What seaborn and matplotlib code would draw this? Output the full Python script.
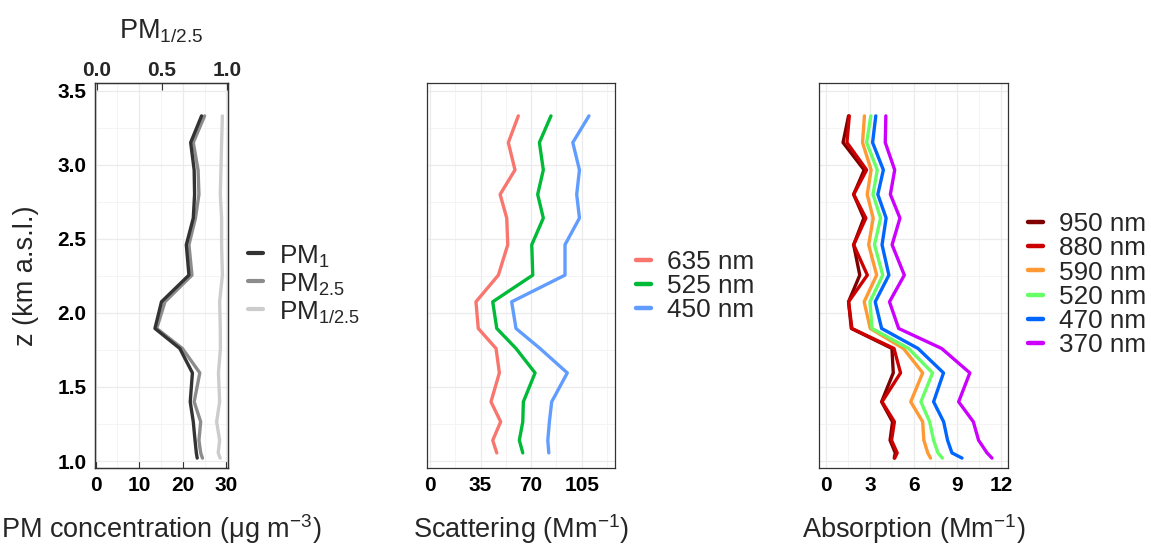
import numpy as np
import pandas as pd
import matplotlib
matplotlib.use("Agg")
import matplotlib.pyplot as plt
import seaborn as sns
from matplotlib.lines import Line2D

# ---------------- data ----------------
z_km = [3.33, 3.15, 2.965, 2.80, 2.64, 2.46, 2.255, 2.075, 1.895, 1.76,
        1.595, 1.40, 1.265, 1.14, 1.055, 1.02]

pm1 = [24.3, 21.8, 22.6, 22.7, 22.4, 20.8, 21.4, 15.1, 13.6, 19.3,
       22.2, 21.7, 22.4, 22.8, 23.1, 23.3]
pm25 = [25.0, 22.4, 23.5, 23.7, 22.9, 21.4, 22.1, 15.9, 14.0, 19.9,
        23.9, 22.6, 24.1, 23.7, 24.1, 24.5]
pm_ratio = [0.962, 0.956, 0.951, 0.946, 0.956, 0.956, 0.962, 0.941, 0.946, 0.947,
            0.932, 0.941, 0.918, 0.941, 0.930, 0.945]

z_sca = z_km[:15]
sca_635 = [61.1, 54.2, 58.8, 48.5, 53.1, 53.8, 47.3, 31.8, 33.4, 45.7,
           48.0, 42.2, 48.9, 43.4, 46.2]
sca_525 = [83.7, 75.7, 78.4, 74.5, 78.4, 70.4, 71.1, 43.4, 46.2, 59.5,
           72.7, 64.6, 64.2, 61.8, 64.2]
sca_450 = [110.0, 98.8, 103.4, 101.5, 103.4, 93.4, 93.4, 56.5, 59.5, 76.1,
           95.0, 84.2, 82.6, 81.5, 82.2]

abs_950 = [1.53, 1.15, 2.60, 1.88, 2.58, 1.88, 2.30, 1.53, 1.72, 4.51,
           4.60, 3.80, 4.55, 4.38, 4.74, 4.67]
abs_880 = [1.58, 1.42, 2.77, 1.88, 2.72, 1.88, 2.82, 1.53, 1.76, 4.65,
           5.10, 3.83, 4.68, 4.48, 4.87, 4.70]
abs_590 = [2.62, 2.49, 3.08, 2.81, 3.22, 2.91, 3.46, 2.60, 3.02, 5.30,
           6.62, 5.80, 6.62, 6.70, 6.97, 7.16]
abs_520 = [3.06, 2.77, 3.50, 3.21, 3.73, 3.31, 3.88, 3.00, 3.14, 5.65,
           7.30, 6.50, 7.10, 7.37, 7.67, 7.97]
abs_470 = [3.40, 3.18, 3.92, 3.54, 4.11, 3.83, 4.30, 3.36, 3.80, 6.30,
           8.05, 7.37, 8.06, 8.33, 8.63, 9.32]
abs_370 = [4.09, 4.05, 4.70, 4.40, 5.06, 4.52, 5.36, 4.34, 4.97, 7.92,
           9.86, 9.09, 10.10, 10.46, 11.04, 11.38]

sca_labels = ["635 nm", "525 nm", "450 nm"]
abs_labels = ["950 nm", "880 nm", "590 nm", "520 nm", "470 nm", "370 nm"]
pm_labels = ["PM$_1$", "PM$_{2.5}$", "PM$_{1/2.5}$"]

# ---------------- style ----------------
sns.set_style("white")
plt.rcParams["font.family"] = ["Liberation Sans", "DejaVu Sans"]
plt.rcParams["mathtext.fontset"] = "custom"
plt.rcParams["mathtext.rm"] = "Liberation Sans"
plt.rcParams["mathtext.it"] = "Liberation Sans:italic"
plt.rcParams["mathtext.bf"] = "Liberation Sans:bold"
plt.rcParams["mathtext.default"] = "regular"

W, H = 1151, 550
fig = plt.figure(figsize=(W / 100, H / 100), dpi=100)


def add_ax(x0, x1, y0=83, y1=468):
    return fig.add_axes([x0 / W, (H - y1) / H, (x1 - x0) / W, (y1 - y0) / H])


TICK_FS = 15
LAB_FS = 19.5
LEG_FS = 18.8
YLIM = (0.953, 3.552)
yticks = [1.0, 1.5, 2.0, 2.5, 3.0, 3.5]
yminor = [1.25, 1.75, 2.25, 2.75, 3.25]


def style(ax, xlim, xticks, xticklabels, xminor, ylabels):
    ax.set_ylim(*YLIM)
    ax.set_xlim(*xlim)
    ax.set_yticks(yticks, [f"{v:.1f}" for v in yticks] if ylabels else [],
                  fontweight="bold", fontsize=TICK_FS)
    ax.set_yticks(yminor, minor=True)
    ax.set_xticks(xticks, xticklabels, fontweight="bold", fontsize=TICK_FS)
    ax.set_xticks(xminor, minor=True)
    ax.grid(which="major", color="#EBEBEB", lw=0.9)
    ax.grid(which="minor", color="#F2F2F2", lw=0.6)
    ax.set_axisbelow(True)
    ax.tick_params(which="major", direction="in", length=5, width=0.8,
                   color="#333333", pad=6, labelcolor="black")
    ax.tick_params(which="minor", length=0)
    ax.tick_params(top=False, right=False)
    for sp in ax.spines.values():
        sp.set_color("#333333")
        sp.set_linewidth(0.9)


LW = 2.4
LEG_KW = dict(loc="center left", frameon=False, fontsize=LEG_FS,
              handlelength=0.58, handletextpad=0.6, borderpad=0, borderaxespad=0)

# ---------------- panel 1: PM ----------------
ax1 = add_ax(95, 228)
pm_df = pd.DataFrame({"z": z_km * 2, "v": pm25 + pm1,
                      "s": [pm_labels[1]] * len(z_km) + [pm_labels[0]] * len(z_km)})
sns.lineplot(data=pm_df, x="v", y="z", hue="s",
             palette={pm_labels[0]: "#333333", pm_labels[1]: "#8C8C8C"},
             hue_order=[pm_labels[1], pm_labels[0]],
             sort=False, estimator=None, lw=LW, ax=ax1, legend=False)
style(ax1, (-0.16, 30.37), [0, 10, 20, 30], ["0", "10", "20", "30"],
      [5, 15, 25], True)
ax1.set_xlabel("PM concentration (μg m$^{-3}$)", fontsize=LAB_FS)
ax1.xaxis.set_label_coords(0.5, -0.115)
ax1.set_ylabel("z (km a.s.l.)", fontsize=LAB_FS)
ax1.yaxis.set_label_coords(-0.42, 0.5)

ax1t = ax1.twiny()
sns.lineplot(x=pm_ratio, y=z_km, color="#CCCCCC", sort=False, estimator=None,
             lw=LW, ax=ax1t)
ax1t.set_xlim(-0.013, 1.005)
ax1t.set_ylim(*YLIM)
ax1t.set_xticks([0.0, 0.5, 1.0], ["0.0", "0.5", "1.0"], fontweight="bold",
                fontsize=TICK_FS)
ax1t.tick_params(direction="in", length=5, width=0.8, color="#333333", pad=2)
ax1t.grid(False)
for sp in ax1t.spines.values():
    sp.set_color("#333333")
    sp.set_linewidth(0.9)
ax1t.set_xlabel("PM$_{1/2.5}$", fontsize=LAB_FS)
ax1t.xaxis.set_label_coords(0.5, 1.115)
ax1t.set_ylabel("")

pm_handles = [Line2D([], [], color=c, lw=3) for c in ["#333333", "#8C8C8C", "#CCCCCC"]]
ax1.legend(pm_handles, pm_labels, bbox_to_anchor=(1.15, 0.478),
           handleheight=1.12, labelspacing=0.0, **LEG_KW)

# ---------------- panel 2: scattering ----------------
ax2 = add_ax(426.7, 615)
sca_df = pd.DataFrame({"z": z_sca * 3, "v": sca_635 + sca_525 + sca_450,
                       "wl": sum([[l] * len(z_sca) for l in sca_labels], [])})
sca_pal = dict(zip(sca_labels, ["#F8766D", "#00BA38", "#619CFF"]))
sns.lineplot(data=sca_df, x="v", y="z", hue="wl", hue_order=sca_labels,
             palette=sca_pal, sort=False, estimator=None, lw=LW, ax=ax2,
             legend=False)
style(ax2, (-2.28, 128.0), [0, 35, 70, 105], ["0", "35", "70", "105"],
      [17.5, 52.5, 87.5, 122.5], False)
ax2.set_xlabel("Scattering (Mm$^{-1}$)", fontsize=LAB_FS)
ax2.xaxis.set_label_coords(0.5, -0.115)
ax2.set_ylabel("")
sca_handles = [Line2D([], [], color=sca_pal[l], lw=3.2) for l in sca_labels]
ax2.legend(sca_handles, sca_labels, bbox_to_anchor=(1.111, 0.472),
           labelspacing=0.0, **LEG_KW)

# ---------------- panel 3: absorption ----------------
ax3 = add_ax(819, 1008)
abs_vals = [abs_950, abs_880, abs_590, abs_520, abs_470, abs_370]
abs_df = pd.DataFrame({"z": z_km * 6, "v": sum(abs_vals, []),
                       "wl": sum([[l] * len(z_km) for l in abs_labels], [])})
abs_pal = dict(zip(abs_labels, ["#7F0000", "#CC0000", "#FF9933", "#66FF66",
                                "#0066FF", "#CC00FF"]))
sns.lineplot(data=abs_df, x="v", y="z", hue="wl", hue_order=abs_labels,
             palette=abs_pal, sort=False, estimator=None, lw=LW, ax=ax3,
             legend=False)
style(ax3, (-0.50, 12.48), [0, 3, 6, 9, 12], ["0", "3", "6", "9", "12"],
      [1.5, 4.5, 7.5, 10.5], False)
ax3.set_xlabel("Absorption (Mm$^{-1}$)", fontsize=LAB_FS)
ax3.xaxis.set_label_coords(0.5, -0.115)
ax3.set_ylabel("")
abs_handles = [Line2D([], [], color=abs_pal[l], lw=3.2) for l in abs_labels]
ax3.legend(abs_handles, abs_labels, bbox_to_anchor=(1.106, 0.476),
           labelspacing=0.01, **LEG_KW)

fig.savefig("out.png", dpi=100)
